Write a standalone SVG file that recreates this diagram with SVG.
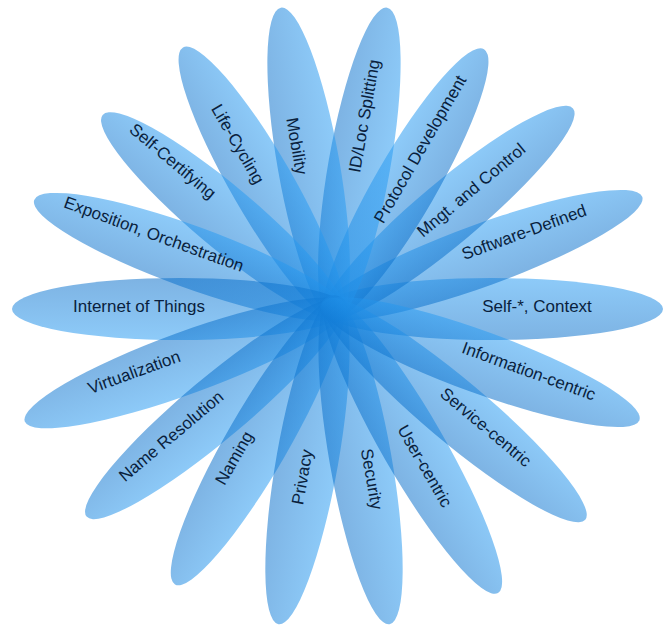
<svg xmlns="http://www.w3.org/2000/svg" width="667" height="625" viewBox="0 0 667 625">
<style>
.petal{fill-opacity:0.53}
.pa{fill:url(#gA)}
.pb{fill:url(#gB)}
.lbl{font-family:"Liberation Sans",Arial,sans-serif;font-size:17px;fill:#0a1f3d;text-anchor:middle}
</style>
<defs>
<linearGradient id="gA" x1="0" y1="0" x2="0" y2="1"><stop offset="0" stop-color="#289cf3"/><stop offset="1" stop-color="#0a6fca"/></linearGradient>
<linearGradient id="gB" x1="0" y1="1" x2="0" y2="0"><stop offset="0" stop-color="#289cf3"/><stop offset="1" stop-color="#0a6fca"/></linearGradient>
</defs>
<rect width="667" height="625" fill="#ffffff"/>
<g id="petals" transform="translate(334 309)">
<g id="node-self-context" transform="rotate(0)"><ellipse class="petal pa" cx="157.5" cy="0" rx="171.5" ry="31"/></g>
<g id="node-software-defined" transform="rotate(-20)"><ellipse class="petal pa" cx="157" cy="0" rx="171" ry="31"/></g>
<g id="node-mngt-control" transform="rotate(-40)"><ellipse class="petal pa" cx="149" cy="0" rx="163" ry="31"/></g>
<g id="node-protocol-development" transform="rotate(-60)"><ellipse class="petal pa" cx="143" cy="0" rx="157" ry="31"/></g>
<g id="node-id-loc-splitting" transform="rotate(-80)"><ellipse class="petal pb" cx="146" cy="0" rx="160" ry="31"/></g>
<g id="node-mobility" transform="rotate(-100)"><ellipse class="petal pb" cx="146" cy="0" rx="160" ry="31"/></g>
<g id="node-life-cycling" transform="rotate(-120)"><ellipse class="petal pb" cx="144" cy="0" rx="158" ry="31"/></g>
<g id="node-self-certifying" transform="rotate(-140)"><ellipse class="petal pb" cx="144" cy="0" rx="158" ry="31"/></g>
<g id="node-exposition-orchestration" transform="rotate(-160)"><ellipse class="petal pb" cx="152.5" cy="0" rx="166.5" ry="31"/></g>
<g id="node-internet-of-things" transform="rotate(-180)"><ellipse class="petal pa" cx="154" cy="0" rx="168" ry="31"/></g>
<g id="node-virtualization" transform="rotate(-200)"><ellipse class="petal pa" cx="157.5" cy="0" rx="171.5" ry="31"/></g>
<g id="node-name-resolution" transform="rotate(-220)"><ellipse class="petal pa" cx="154.5" cy="0" rx="168.5" ry="31"/></g>
<g id="node-naming" transform="rotate(-240)"><ellipse class="petal pa" cx="152" cy="0" rx="166" ry="31"/></g>
<g id="node-privacy" transform="rotate(-260)"><ellipse class="petal pa" cx="153" cy="0" rx="167" ry="31"/></g>
<g id="node-security" transform="rotate(-280)"><ellipse class="petal pa" cx="153" cy="0" rx="167" ry="31"/></g>
<g id="node-user-centric" transform="rotate(-300)"><ellipse class="petal pa" cx="157" cy="0" rx="171" ry="31"/></g>
<g id="node-service-centric" transform="rotate(-320)"><ellipse class="petal pa" cx="157" cy="0" rx="171" ry="31"/></g>
<g id="node-information-centric" transform="rotate(-340)"><ellipse class="petal pa" cx="155.5" cy="0" rx="169.5" ry="31"/></g>
</g>
<g id="labels">
<text id="label-self-context" class="lbl" dy="0.35em" transform="translate(537 306) rotate(0)">Self-*, Context</text>
<text id="label-software-defined" class="lbl" dy="0.35em" transform="translate(524 232) rotate(-20)">Software-Defined</text>
<text id="label-mngt-control" class="lbl" dy="0.35em" transform="translate(471 190) rotate(-40)">Mngt. and Control</text>
<text id="label-protocol-development" class="lbl" dy="0.35em" transform="translate(420 149) rotate(-60)">Protocol Development</text>
<text id="label-id-loc-splitting" class="lbl" dy="0.35em" transform="translate(364 116) rotate(-80)">ID/Loc Splitting</text>
<text id="label-mobility" class="lbl" dy="0.35em" transform="translate(297 146) rotate(80)">Mobility</text>
<text id="label-life-cycling" class="lbl" dy="0.35em" transform="translate(238 144) rotate(60)">Life-Cycling</text>
<text id="label-self-certifying" class="lbl" dy="0.35em" transform="translate(173 161) rotate(40)">Self-Certifying</text>
<text id="label-exposition-orchestration" class="lbl" dy="0.35em" transform="translate(154 234) rotate(20)">Exposition, Orchestration</text>
<text id="label-internet-of-things" class="lbl" dy="0.35em" transform="translate(139 306) rotate(0)">Internet of Things</text>
<text id="label-virtualization" class="lbl" dy="0.35em" transform="translate(134 372) rotate(-20)">Virtualization</text>
<text id="label-name-resolution" class="lbl" dy="0.35em" transform="translate(171 436) rotate(-40)">Name Resolution</text>
<text id="label-naming" class="lbl" dy="0.35em" transform="translate(234 458) rotate(-60)">Naming</text>
<text id="label-privacy" class="lbl" dy="0.35em" transform="translate(302 477) rotate(-80)">Privacy</text>
<text id="label-security" class="lbl" dy="0.35em" transform="translate(372 479) rotate(80)">Security</text>
<text id="label-user-centric" class="lbl" dy="0.35em" transform="translate(425 466) rotate(60)">User-centric</text>
<text id="label-service-centric" class="lbl" dy="0.35em" transform="translate(486 427) rotate(40)">Service-centric</text>
<text id="label-information-centric" class="lbl" dy="0.35em" transform="translate(529 371) rotate(20)">Information-centric</text>
</g>
</svg>
